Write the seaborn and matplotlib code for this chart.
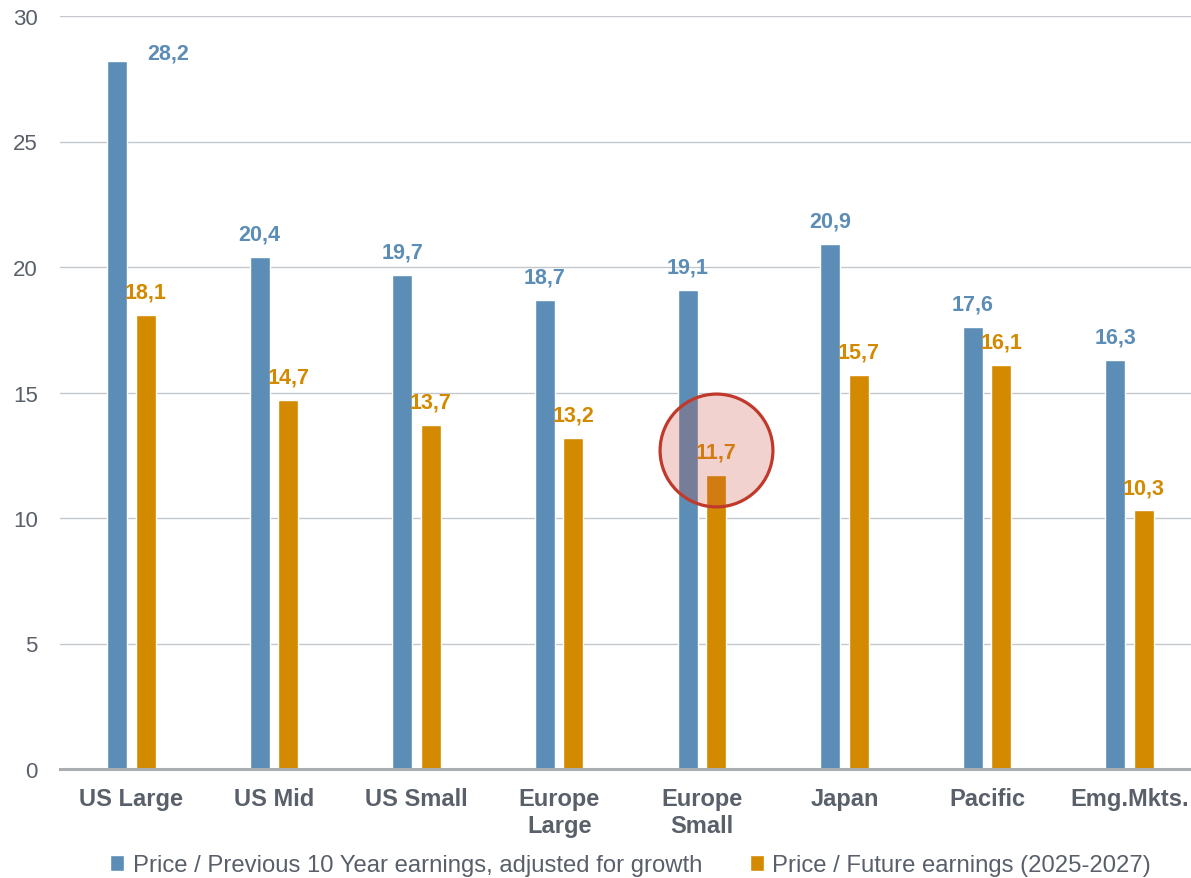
import numpy as np
import pandas as pd
import matplotlib.pyplot as plt
import seaborn as sns
from matplotlib.patches import Patch

regions = ['US Large', 'US Mid', 'US Small', 'Europe\nLarge', 'Europe\nSmall',
           'Japan', 'Pacific', 'Emg.Mkts.']
prev_10y = [28.2, 20.4, 19.7, 18.7, 19.1, 20.9, 17.6, 16.3]
future_pe = [18.1, 14.7, 13.7, 13.2, 11.7, 15.7, 16.1, 10.3]
series_names = ['Price / Previous 10 Year earnings, adjusted for growth',
                'Price / Future earnings (2025-2027)']
yticks = [0, 5, 10, 15, 20, 25, 30]

blue = '#5B8DB6'
orange = '#D48A00'
grey_txt = '#59606A'

df = pd.DataFrame({
    'region': regions * 2,
    'value': prev_10y + future_pe,
    'series': [series_names[0]] * len(regions) + [series_names[1]] * len(regions),
})

sns.set_style('white')
plt.rcParams['font.family'] = ['Liberation Sans', 'DejaVu Sans']

fig = plt.figure(figsize=(11.91, 8.79), dpi=100)
ax = fig.add_axes([60 / 1191, 1 - 770 / 879, 1141 / 1191, 753 / 879])

sns.barplot(data=df, x='region', y='value', hue='series', palette=[blue, orange],
            saturation=1, width=0.4, gap=0.3, legend=False, ax=ax)

ax.set_ylim(0, 30)
ax.set_xlim(-0.5, len(regions) - 0.5)
ax.set_yticks(yticks)
ax.set_xlabel('')
ax.set_ylabel('')
ax.yaxis.grid(True, color='#C4C8CC', linewidth=1.0)
ax.set_axisbelow(True)
for s in ['top', 'right', 'left']:
    ax.spines[s].set_visible(False)
ax.spines['bottom'].set_color('#A9ADB1')
ax.spines['bottom'].set_linewidth(2.2)
ax.tick_params(axis='y', length=0, pad=16, labelsize=16, labelcolor=grey_txt)
ax.tick_params(axis='x', length=0, pad=13, labelsize=17, labelcolor=grey_txt)
for lbl in ax.get_xticklabels():
    lbl.set_fontweight('bold')

# value labels
for cont, col in zip(ax.containers, [blue, orange]):
    for i, bar in enumerate(cont):
        h = bar.get_height()
        x = bar.get_x() + bar.get_width() / 2
        txt = f'{h:.1f}'.replace('.', ',')
        if col == blue and i == 0:
            ax.annotate(txt, (x, h), xytext=(37, 6), textcoords='offset points',
                        ha='center', va='center', fontsize=15.5, fontweight='bold', color=col)
        else:
            ax.annotate(txt, (x, h), xytext=(0, 16.5), textcoords='offset points',
                        ha='center', va='center', fontsize=15.5, fontweight='bold', color=col)

# highlight circle around Europe Small future earnings
ax.scatter([4.1], [future_pe[4] + 1.0], s=6600, facecolor=(0.79, 0.31, 0.25, 0.25),
           edgecolor='#C0392B', linewidth=2.3, zorder=5)

handles = [Patch(facecolor=blue), Patch(facecolor=orange)]
ax.legend(handles, series_names, loc='center', bbox_to_anchor=(0.5, -0.128), ncol=2,
          frameon=False, fontsize=17.2, handlelength=0.6, handleheight=0.6,
          handletextpad=0.35, columnspacing=2.0, labelcolor=grey_txt)

fig.savefig('out.png', dpi=100)
